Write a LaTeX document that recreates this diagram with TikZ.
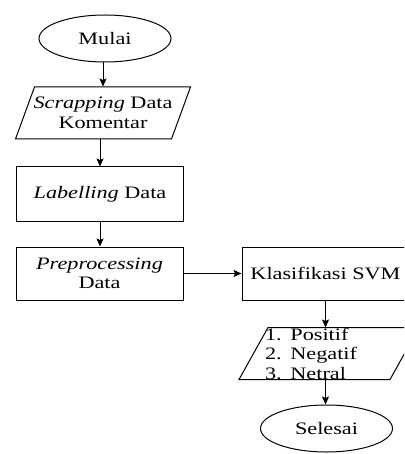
\documentclass[tikz,border=0pt]{standalone}
\usepackage{fontspec}
\setmainfont{Liberation Serif}[FakeStretch=1.27]
\usetikzlibrary{calc,arrows.meta,shapes.geometric}
\begin{document}
\begin{tikzpicture}[x=1pt,y=-1pt,line width=1pt,
  every node/.style={font=\fontsize{17.5}{19.5}\selectfont},
  box/.style={draw,rectangle,minimum width=167pt,minimum height=53pt,inner sep=0pt,align=center},
  term/.style={draw,ellipse,minimum width=132pt,minimum height=47pt,inner sep=0pt},
  iobox/.style={rectangle,minimum height=52pt,inner sep=0pt},
  arr/.style={-{Stealth[length=8pt,width=7pt,inset=1.5pt]}}]
\useasboundingbox (0,0) rectangle (404,454);
\clip (0,0) rectangle (404,454);
% nodes
\node[term] (mulai) at (105,38.5) {Mulai};
\node[iobox,minimum width=156pt,align=center] (scr) at (103,113) {\textit{Scrapping} Data\\Komentar};
\draw ($(scr.center)+(-68.5,-26)$) -- ($(scr.center)+(87.5,-26)$) -- ($(scr.center)+(68.5,26)$) -- ($(scr.center)+(-87.5,26)$) -- cycle;
\node[box,minimum height=54pt] (lab) at (100,194) {\textit{Labelling} Data};
\node[box] (pre) at (99.5,273.5) {\textit{Preprocessing}\\Data};
\node[box] (kla) at (325.5,273.5) {Klasifikasi SVM};
\node[iobox,text width=128pt,inner xsep=11.5pt,align=left] (out) at (329,353.5) {1. Positif\\2. Negatif\\3. Netral};
\draw ($(out.center)+(-61,-26)$) -- ($(out.center)+(90,-26)$) -- ($(out.center)+(61,26)$) -- ($(out.center)+(-90,26)$) -- cycle;
\coordinate (outtop) at ($(out.center)+(0,-26)$);
\coordinate (outbot) at ($(out.center)+(0,26)$);
\node[term] (sel) at (326.5,428.5) {Selesai};
% connectors
\draw[arr] (scr.north |- mulai.south) -- (scr.north);
\draw[arr] (lab.north |- scr.south) -- (lab.north);
\draw[arr] (lab.south) -- (lab.south |- pre.north);
\draw[arr] (pre.east) -- (kla.west);
\draw[arr] (kla.south) -- (kla.south |- outtop);
\draw[arr] (kla.south |- outbot) -- (kla.south |- sel.north);
\end{tikzpicture}
\end{document}
